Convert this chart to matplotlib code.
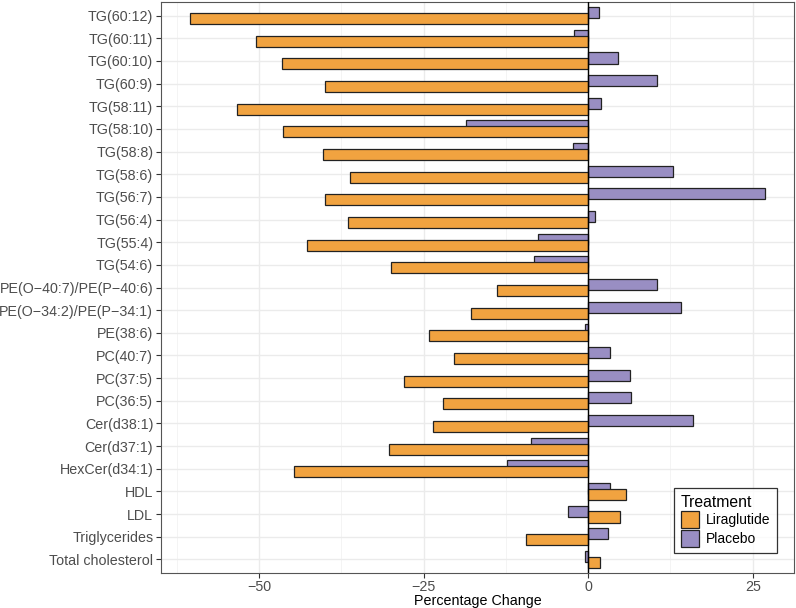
import numpy as np
import matplotlib.pyplot as plt
from matplotlib.patches import Patch

plt.rcParams["font.family"] = ["Liberation Sans", "DejaVu Sans"]

# categories, bottom -> top
lipids = [
    "Total cholesterol", "Triglycerides", "LDL", "HDL", "HexCer(d34:1)",
    "Cer(d37:1)", "Cer(d38:1)", "PC(36:5)", "PC(37:5)", "PC(40:7)",
    "PE(38:6)", "PE(O\u221234:2)/PE(P\u221234:1)", "PE(O\u221240:7)/PE(P\u221240:6)",
    "TG(54:6)", "TG(55:4)", "TG(56:4)", "TG(56:7)", "TG(58:6)", "TG(58:8)",
    "TG(58:10)", "TG(58:11)", "TG(60:9)", "TG(60:10)", "TG(60:11)", "TG(60:12)",
]
liraglutide = [
    1.8, -9.4, 4.9, 5.8, -44.7,
    -30.2, -23.5, -22.1, -28.0, -20.3,
    -24.1, -17.8, -13.8,
    -30.0, -42.7, -36.4, -39.9, -36.1, -40.2,
    -46.4, -53.3, -39.9, -46.5, -50.4, -60.5,
]
placebo = [
    -0.45, 3.0, -3.0, 3.3, -12.3,
    -8.6, 15.9, 6.5, 6.4, 3.4,
    -0.45, 14.1, 10.5,
    -8.2, -7.6, 1.0, 26.9, 12.9, -2.3,
    -18.6, 1.9, 10.5, 4.5, -2.2, 1.7,
]
x_ticks = [-50, -25, 0, 25]

COL_LIRA = "#f1a340"
COL_PLAC = "#998ec3"

fig = plt.figure(figsize=(7.96, 6.08), dpi=100)
ax = fig.add_axes([161 / 796, 1 - 573 / 608, (794 - 161) / 796, (573 - 2) / 608])

y = np.arange(len(lipids))
h = 0.49
off = 0.13
# placebo first (upper), liraglutide drawn over it (lower)
ax.barh(y + off, placebo, height=h, color=COL_PLAC, edgecolor="#222222", linewidth=0.9, zorder=3)
ax.barh(y - off, liraglutide, height=h, color=COL_LIRA, edgecolor="#222222", linewidth=0.9, zorder=3)
ax.axvline(0, color="black", linewidth=1.0, zorder=4)

# limits with ggplot-like expansion
lo = min(min(liraglutide), min(placebo))
hi = max(max(liraglutide), max(placebo))
pad = 0.05 * (hi - lo)
ax.set_xlim(lo - pad, hi + pad)
ax.set_ylim(-0.6, len(lipids) - 1 + 0.6)

ax.set_yticks(y)
ax.set_yticklabels(lipids)
ax.set_xticks(x_ticks)
ax.set_xticks([-62.5, -37.5, -12.5, 12.5], minor=True)

ax.grid(True, which="major", color="#ebebeb", linewidth=1.0, zorder=0)
ax.grid(True, which="minor", axis="x", color="#f3f3f3", linewidth=0.6, zorder=0)
ax.set_axisbelow(True)

ax.tick_params(axis="both", which="major", length=3.5, width=0.8, color="#333333",
               labelsize=10.3, labelcolor="#4d4d4d", pad=2)
ax.tick_params(axis="x", which="major", pad=1.5)
ax.tick_params(axis="both", which="minor", length=0)
for s in ax.spines.values():
    s.set_color("#555555")
    s.set_linewidth(0.8)

ax.set_xlabel("Percentage Change", fontsize=10.3, color="black", labelpad=0)

handles = [
    Patch(facecolor=COL_LIRA, edgecolor="#222222", linewidth=0.9, label="Liraglutide"),
    Patch(facecolor=COL_PLAC, edgecolor="#222222", linewidth=0.9, label="Placebo"),
]
leg = fig.legend(handles=handles, title="Treatment", loc="lower right",
                 bbox_to_anchor=(784 / 796, 1 - 560 / 608), frameon=True, fancybox=False,
                 fontsize=10, title_fontsize=11.3, handlelength=1.3, handleheight=1.5,
                 handletextpad=0.55, labelspacing=0.12, borderpad=0.45, alignment="left")
leg.get_frame().set_edgecolor("black")
leg.get_frame().set_linewidth(0.9)

fig.savefig("out.png", dpi=100)
